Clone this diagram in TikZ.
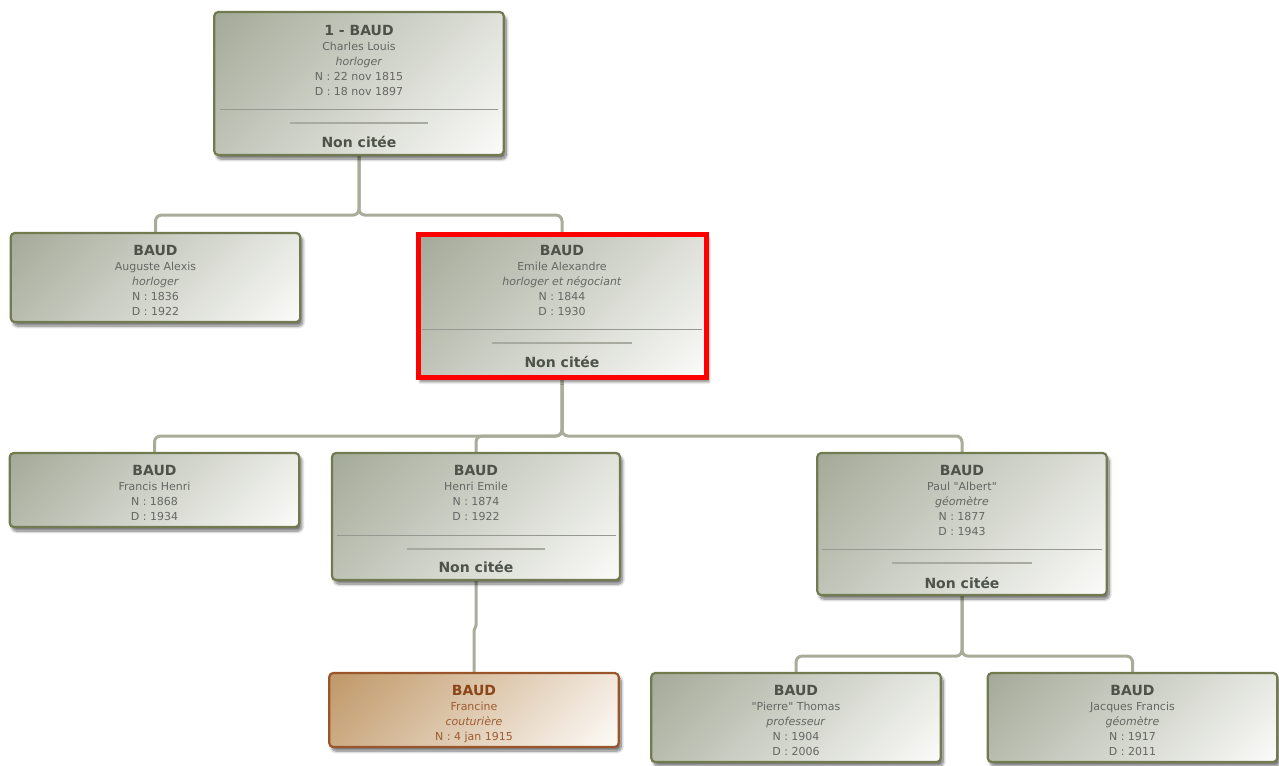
\documentclass[tikz,border=0pt]{standalone}
\usepackage{fontspec}
\setmainfont{DejaVu Sans}
\usetikzlibrary{shadows.blur,backgrounds}

\definecolor{boxdark}{RGB}{164,170,153}
\definecolor{boxlight}{RGB}{251,251,249}
\definecolor{boxedge}{RGB}{114,122,80}
\definecolor{namecol}{RGB}{78,83,73}
\definecolor{textcol}{RGB}{102,102,100}
\definecolor{linkcol}{RGB}{168,172,152}
\definecolor{sepcol}{RGB}{150,152,145}
\definecolor{shortsep}{RGB}{168,170,160}
\definecolor{girldark}{RGB}{192,152,104}
\definecolor{girllight}{RGB}{253,251,248}
\definecolor{girledge}{RGB}{155,85,42}
\definecolor{girlname}{RGB}{139,69,24}
\definecolor{girltext}{RGB}{158,92,50}

% diagonal fills
\pgfdeclareverticalshading{personfill}{100bp}{color(0bp)=(boxlight); color(15bp)=(boxlight); color(85bp)=(boxdark); color(100bp)=(boxdark)}
\pgfdeclareverticalshading{girlfill}{100bp}{color(0bp)=(girllight); color(15bp)=(girllight); color(85bp)=(girldark); color(100bp)=(girldark)}

\newlength{\pxu}\setlength{\pxu}{0.75pt}
\newcommand{\famname}[2][namecol]{{\fontsize{10.5pt}{11.25pt}\selectfont\bfseries\color{#1}#2}}
% straight double quote, past the TeX mapping
\newcommand{\dq}{\XeTeXglyph\XeTeXcharglyph"22\relax}

\begin{document}
\begin{tikzpicture}[x=0.75pt, y=-0.75pt,
  person/.style={rectangle, rounded corners=4\pxu, draw=boxedge, line width=2.2\pxu,
    shading=personfill, shading angle=45,
    blur shadow={shadow xshift=2.5\pxu, shadow yshift=-4\pxu, shadow blur steps=8, shadow opacity=55},
    minimum width=289.5\pxu, inner sep=0pt},
  girl/.style={person, draw=girledge, shading=girlfill, shading angle=45},
  chosen/.style={person, sharp corners, draw=red, line width=5\pxu},
  info/.style={anchor=north, align=center, inner sep=0pt, text=textcol,
    font=\fontsize{8.25pt}{11.25pt}\selectfont},
  nc/.style={inner sep=0pt, text=namecol, font=\fontsize{10.5pt}{12pt}\selectfont\bfseries},
  link/.style={draw=linkcol, line width=3\pxu, rounded corners=6\pxu},
  sepline/.style={draw=sepcol, line width=1\pxu},
  shortline/.style={draw=shortsep, line width=1.5\pxu}]
  \useasboundingbox (0,0) rectangle (1279,765);

  % Boxes
  \node[person, minimum height=143\pxu] (charles) at (359,83.5) {};
  \node[person, minimum height=89\pxu] (auguste) at (155.5,277.5) {};
  \node[chosen, minimum width=288\pxu, minimum height=143\pxu] (emile) at (562,306) {};
  \node[person, minimum height=74\pxu] (francis) at (154.5,490) {};
  \node[person, minimum width=288\pxu, minimum height=127\pxu] (henri) at (476,516.5) {};
  \node[person, minimum height=142\pxu] (paul) at (962,524) {};
  \node[girl, minimum height=74\pxu] (francine) at (474,710) {};
  \node[person, minimum height=89\pxu] (thomas) at (796,717.5) {};
  \node[person, minimum height=89\pxu] (jacques) at (1132.5,717.5) {};

  % Texts
  \node[info] (charlesT) at (359,25) {\famname{1 - BAUD}\\Charles Louis\\\textit{horloger}\\N : 22 nov 1815\\D : 18 nov 1897};
  \node[info] (augusteT) at (155.5,245) {\famname{BAUD}\\Auguste Alexis\\\textit{horloger}\\N : 1836\\D : 1922};
  \node[info] (emileT) at (562,245) {\famname{BAUD}\\Emile Alexandre\\\textit{horloger et négociant}\\N : 1844\\D : 1930};
  \node[info] (francisT) at (154.5,465) {\famname{BAUD}\\Francis Henri\\N : 1868\\D : 1934};
  \node[info] (henriT) at (476,465) {\famname{BAUD}\\Henri Emile\\N : 1874\\D : 1922};
  \node[info] (paulT) at (962,465) {\famname{BAUD}\\Paul \dq Albert\dq\\\textit{géomètre}\\N : 1877\\D : 1943};
  \node[info, text=girltext] (francineT) at (474,685) {\famname[girlname]{BAUD}\\Francine\\\textit{couturière}\\N : 4 jan 1915};
  \node[info] (thomasT) at (796,685) {\famname{BAUD}\\\dq Pierre\dq\ Thomas\\\textit{professeur}\\N : 1904\\D : 2006};
  \node[info] (jacquesT) at (1132.5,685) {\famname{BAUD}\\Jacques Francis\\\textit{géomètre}\\N : 1917\\D : 2011};

  % Spouse parts
  \draw[sepline] (220,109) -- (498,109);
  \draw[shortline] (290,123) -- (428,123);
  \node[nc] (charlesNC) at (359,142) {Non citée};
  \draw[sepline] (422,329) -- (702,329);
  \draw[shortline] (492,343) -- (632,343);
  \node[nc] (emileNC) at (562,362) {Non citée};
  \draw[sepline] (337,535) -- (616,535);
  \draw[shortline] (407,549) -- (545,549);
  \node[nc] (henriNC) at (476,567) {Non citée};
  \draw[sepline] (822,549) -- (1102,549);
  \draw[shortline] (892,563) -- (1032,563);
  \node[nc] (paulNC) at (962,583) {Non citée};

  % Links
  \begin{pgfonlayer}{background}
    \draw[link] (charles.south) -- ++(0,59) -| (auguste.north);
    \draw[link] (charles.south) -- ++(0,59) -| (emile.north);
    \draw[link] (emile.south) -- ++(0,56) -| (francis.north);
    \draw[link] (emile.south) -- ++(0,56) -| (henri.north);
    \draw[link] (emile.south) -- ++(0,56) -| (paul.north);
    \draw[link, rounded corners=1\pxu] (henri.south) -- ++(0,45) -- ++(-2,4) -- (francine.north);
    \draw[link] (paul.south) -- ++(0,60) -| (thomas.north);
    \draw[link] (paul.south) -- ++(0,60) -| (jacques.north);
  \end{pgfonlayer}
\end{tikzpicture}
\end{document}
